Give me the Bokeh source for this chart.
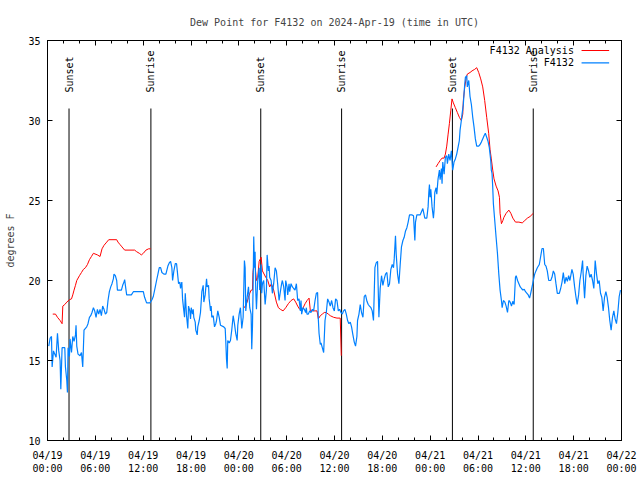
import numpy as np
import pandas as pd
from bokeh.plotting import figure
from bokeh.models import (FixedTicker, DatetimeTickFormatter, DatetimeAxis,
                          LinearAxis, Range1d, CustomJSTickFormatter)
from bokeh.embed import file_html
from bokeh.resources import INLINE
from bokeh.core.properties import value

# ---------------- data (hours since 2024-04-19 00:00 UTC, dew point in F) ----
obs_hours = [
    0.16, 0.33, 0.50, 0.58, 0.75, 0.91, 1.08, 1.25, 1.41, 1.58, 1.67, 1.83, 2.17, 2.25, 2.42, 2.50,
    2.58, 2.75, 2.83, 3.01, 3.17, 3.33, 3.51, 3.58, 3.67, 3.83, 4.08, 4.26, 4.42, 4.58, 4.92, 5.08,
    5.26, 5.42, 5.58, 5.76, 5.92, 6.09, 6.26, 6.42, 6.59, 6.76, 6.92, 7.09, 7.26, 7.43, 7.59, 7.76,
    7.93, 8.09, 8.26, 8.34, 8.51, 8.68, 8.77, 9.27, 9.43, 9.59, 9.68, 9.77, 9.93, 10.52, 10.77, 12.02,
    12.18, 12.43, 12.85, 13.10, 13.27,
    13.52, 13.68, 13.85, 14.02, 14.19, 14.35, 14.60, 14.85, 15.10, 15.27, 15.44, 15.60, 15.69, 15.85,
    16.03, 16.19, 16.28, 16.44, 16.60, 16.69, 16.85, 16.94, 17.10, 17.19, 17.28, 17.44, 17.60, 17.69,
    17.85, 17.94, 18.03, 18.19, 18.28, 18.35, 18.53, 18.60, 18.78, 18.85, 19.03, 19.19, 19.36, 19.53,
    19.61, 19.78, 19.95, 20.03, 20.20, 20.28, 20.45, 20.53, 20.61, 20.79, 20.95, 21.11, 21.20, 21.36,
    21.54, 21.70, 22.11, 22.29, 22.36, 22.45, 22.54, 22.61, 22.79, 22.95, 23.11, 23.29, 23.45, 23.61,
    23.79, 23.87, 24.04, 24.20,
    24.37, 24.54, 24.70, 24.79, 24.87, 25.04, 25.21, 25.37, 25.54, 25.62, 25.71, 25.79, 25.87, 25.96,
    26.04, 26.12, 26.21, 26.37, 26.55, 26.62, 26.80, 26.87, 26.96, 27.12, 27.30, 27.46, 27.55, 27.71,
    27.80, 27.87, 28.05, 28.21, 28.37, 28.55, 28.71, 28.87, 29.05, 29.21, 29.37, 29.46, 29.63, 29.80,
    29.88, 30.05, 30.13, 30.30, 30.38, 30.55, 30.72, 30.88, 31.05, 31.22, 31.38, 31.55, 31.72, 31.80,
    31.88, 32.05, 32.22, 32.38, 32.47, 32.55, 32.72, 32.88, 33.05, 33.22, 33.38, 33.56, 33.72, 33.88,
    33.97, 34.06, 34.22, 34.31, 34.47, 34.64, 34.81, 34.97, 35.14, 35.31, 35.47, 35.64, 35.81, 35.98,
    36.14, 36.31, 36.48, 36.64, 36.81, 36.98, 37.14, 37.31, 37.48, 37.64, 37.81, 37.98, 38.14, 38.31,
    38.48, 38.64, 38.81, 38.89, 39.07, 39.23, 39.39, 39.57, 39.73, 39.89, 40.07, 40.23, 40.39, 40.57,
    40.73, 40.89,
    41.07, 41.23, 41.40, 41.57, 41.73, 41.90, 42.07, 42.24, 42.40, 42.57, 42.74, 42.90, 43.07, 43.24,
    43.40, 43.49, 43.65, 43.74, 43.91, 44.08, 44.24, 44.40, 44.58, 44.74, 44.91, 45.08, 45.24, 45.41,
    45.74, 45.91, 46.08, 46.16, 46.33, 46.74, 46.91, 47.08, 47.16, 47.33, 47.58, 47.74, 47.83, 47.91,
    47.99, 48.08, 48.24, 48.41, 48.49, 48.58, 48.74, 48.83, 48.99, 49.16, 49.25, 49.41, 49.49, 49.58,
    49.75, 49.83, 49.91, 50.08, 50.16, 50.33, 50.49, 50.66, 50.83, 50.99, 51.16, 51.33, 51.49,
    51.66, 51.75, 51.91, 52.00, 52.16, 52.25, 52.34, 52.42, 52.59, 52.66, 52.84, 53.00, 53.17, 53.34,
    53.50, 53.67, 53.84, 54.09, 54.26, 54.42, 54.59, 54.76, 54.92, 55.09, 55.26, 55.42, 55.60, 55.67,
    55.76, 55.85, 55.93, 56.10, 56.27, 56.44, 56.61, 56.77, 56.94, 57.03, 57.19, 57.37, 57.53, 57.70,
    57.87, 58.04, 58.20, 58.36, 58.53, 58.70, 58.79, 58.96, 59.13, 59.30, 59.46, 59.63, 59.80, 59.96,
    60.14, 60.30, 60.47, 60.61, 60.78, 60.94,
    61.11, 61.27, 61.44, 61.69, 61.86, 62.03, 62.20, 62.37, 62.53, 62.69, 62.87, 63.12, 63.28, 63.45,
    63.62, 63.78, 63.95, 64.20, 64.37, 64.54, 64.70, 64.88, 65.04, 65.21, 65.37, 65.53, 65.78, 65.94,
    66.12, 66.28, 66.44, 66.62, 66.78, 66.94, 67.12, 67.19, 67.37, 67.53, 67.69, 67.87, 68.03, 68.19,
    68.37, 68.53, 68.70, 68.87, 69.03, 69.20, 69.37, 69.53, 69.70, 69.87, 70.04, 70.20, 70.37, 70.53,
    70.70, 70.87, 71.04, 71.20, 71.37, 71.54, 71.71, 71.87,
]
obs_dewpt = [
    15.9, 16.4, 16.5, 14.6, 15.6, 15.4, 15.2, 16.7, 15.6, 15.0, 13.2, 15.8, 15.8, 14.6, 13.75, 13.0,
    15.8, 15.25, 16.35, 15.5, 16.5, 16.2, 16.6, 17.2, 15.9, 15.4, 15.3, 15.5, 14.6, 16.9, 17.1, 17.3,
    17.7, 17.8, 18.0, 18.3, 18.1, 17.7, 18.2, 17.9, 18.2, 17.8, 18.4, 18.2, 17.9, 18.0, 18.75, 19.3,
    19.6, 19.8, 20.1, 20.4, 20.3, 20.0, 19.4, 19.4, 19.7, 19.9, 20.05, 19.7, 19.1, 19.1, 19.3, 19.3,
    18.95, 18.6, 18.6, 18.8, 19.0,
    19.6, 20.0, 20.4, 20.8, 20.8, 20.5, 20.4, 20.4, 20.9, 21.1, 21.2, 20.8, 20.0, 20.6,
    21.05, 21.05, 20.6, 19.8, 19.9, 19.5, 19.9, 18.85, 18.1, 17.7, 19.2, 17.8, 17.0, 18.4,
    18.1, 17.6, 18.3, 17.9, 18.2, 17.7, 17.4, 16.9, 16.6, 17.1, 17.5, 18.0, 19.3, 19.7,
    18.65, 19.1, 20.1, 19.6, 19.7, 18.85, 18.1, 18.4, 17.7, 17.8, 17.1, 17.3, 17.5, 18.1,
    17.7, 17.2, 17.1, 17.0, 16.25, 15.1, 14.5, 16.25, 16.1, 16.25, 16.9, 17.8, 17.3, 16.7,
    16.25, 17.2, 17.9, 18.3,
    17.0, 17.7, 21.25, 20.8, 18.1, 18.95, 19.6, 18.3, 17.9, 15.7, 17.1, 19.6, 22.75, 20.8,
    21.8, 19.4, 18.2, 20.0, 20.8, 19.4, 21.0, 19.2, 19.8, 20.0, 18.5, 19.4, 21.6, 20.6,
    20.9, 20.2, 20.0, 19.2, 19.8, 20.8, 20.6, 19.8, 18.75, 19.3, 19.8, 20.0, 19.6, 18.75,
    20.0, 19.6, 19.1, 19.8, 19.3, 19.8, 19.6, 19.5, 19.4, 19.8, 18.75, 18.85, 18.1, 18.75,
    17.9, 18.3, 18.2, 18.0, 18.3, 17.9, 17.9, 18.1, 18.0, 18.2, 18.1, 18.75, 19.2, 19.25,
    17.6, 16.7, 16.0, 16.1, 15.8, 15.5, 17.5, 18.0, 18.85, 18.65, 18.4, 18.75, 18.3, 18.1,
    18.85, 18.75, 18.1, 18.2, 18.0, 17.9, 18.1, 18.2, 17.9, 17.5, 17.3, 17.4, 17.1, 16.6,
    16.15, 15.9, 16.5, 17.5, 17.9, 18.5, 18.0, 17.7, 19.0, 19.1, 18.7, 18.5, 18.4, 18.3,
    18.1, 17.5,
    20.8, 21.1, 21.2, 17.7, 19.5, 20.3, 19.7, 20.1, 20.4, 20.5, 19.6, 19.8, 20.7, 21.0,
    20.8, 21.35, 22.8, 21.65, 20.4, 19.8, 21.0, 22.1, 22.5, 22.7, 23.1, 23.3, 23.65, 24.1,
    24.1, 24.05, 22.5, 23.65, 24.1, 24.1, 24.3, 24.5, 24.3, 23.9, 23.9, 24.6, 25.5, 26.0,
    25.2, 25.7, 24.6, 23.9, 24.4, 25.5, 25.8, 25.4, 26.35, 26.9, 26.3, 27.0, 26.05, 27.4,
    26.65, 27.2, 27.7, 27.8, 27.3, 27.9, 27.5, 28.1, 26.9, 27.4, 27.6, 27.9, 28.3,
    28.75, 29.4, 30.0, 30.4, 31.0, 31.7, 32.3, 32.7, 32.8, 32.1, 32.5, 31.5, 31.0, 30.2,
    29.6, 28.85, 28.4, 28.4, 28.5, 28.65, 28.85, 29.05, 29.2, 28.95, 28.7, 28.3, 27.5, 26.9,
    26.7, 25.8, 24.8, 23.75, 22.7, 21.7, 20.4, 19.4, 18.75, 18.3, 18.75, 18.65, 18.4, 18.0,
    18.75, 18.65, 18.4, 18.7, 18.5, 20.2, 20.3, 20.0, 19.8, 19.6, 19.5, 19.4, 19.45, 19.3,
    19.2, 19.1, 18.9, 19.2, 19.6, 20.0,
    20.4, 20.6, 20.8, 21.0, 21.5, 22.0, 22.0, 21.0, 20.9, 20.6, 20.0, 20.0, 20.2, 20.6,
    20.4, 19.8, 19.2, 19.2, 19.5, 19.9, 20.5, 19.8, 20.2, 19.95, 20.3, 20.0, 20.7, 20.4,
    19.6, 19.0, 18.5, 19.1, 20.0, 20.5, 21.25, 20.4, 18.9, 20.3, 20.9, 20.6, 20.2, 20.4,
    20.0, 19.5, 21.25, 20.4, 19.8, 20.0, 19.2, 18.95, 18.1, 18.95, 19.3, 18.95, 18.3, 17.5,
    16.9, 17.7, 18.1, 17.6, 17.3, 18.0, 19.0, 19.4,
]

# analysis, three daily segments
ana1_hours = [0.66, 1.00, 1.25, 1.58, 1.83, 1.92, 2.17, 2.42, 2.75, 3.01, 3.17, 3.33, 3.51, 3.67,
              4.01, 4.26, 4.51, 4.76, 5.01, 5.26, 5.51, 5.76, 6.26, 6.59, 6.84, 7.09, 7.43, 7.68,
              8.68, 8.84, 9.09, 9.34, 9.68, 10.93, 11.18, 11.52, 11.77, 12.02, 12.35, 12.68, 12.94]
ana1_dewpt = [17.9, 17.9, 17.7, 17.5, 17.3, 18.4, 18.5, 18.65, 18.8, 18.85, 19.1, 19.4, 19.7, 20.0,
              20.3, 20.5, 20.7, 20.8, 21.0, 21.3, 21.5, 21.7, 21.6, 21.5, 21.98, 22.2, 22.4, 22.55,
              22.55, 22.4, 22.25, 22.1, 21.9, 21.9, 21.8, 21.7, 21.6, 21.7, 21.9, 21.98, 21.98]

ana2_hours = [24.70, 25.04, 25.21, 25.37, 25.54, 25.71, 25.77, 25.96, 26.21, 26.37, 26.55, 26.80,
              26.96, 27.38, 27.63, 27.87, 28.09, 28.37, 28.71, 28.96, 29.21, 29.55, 29.88, 30.21,
              30.55, 30.88, 31.13, 31.38, 31.63, 31.88, 32.31, 32.56, 32.81, 32.97, 33.31, 33.81,
              33.97, 34.22, 34.47, 34.72, 34.97, 35.22, 35.47, 35.89, 36.31, 36.72, 36.85]
ana2_dewpt = [18.3, 18.65, 18.95, 19.2, 19.4, 19.4, 20.5, 21.3, 20.0, 20.2, 21.2, 21.45,
              20.6, 20.2, 20.0, 19.6, 19.8, 19.4, 18.65, 18.3, 18.2, 18.1, 18.3, 18.55,
              18.75, 18.85, 18.65, 18.4, 18.2, 18.1, 18.55, 18.75, 18.9, 18.1, 18.1, 18.1,
              17.6, 17.8, 17.9, 18.0, 18.0, 17.9, 17.8, 17.7, 17.65, 17.65, 15.3]

ana3_hours = [48.74, 48.99, 49.25, 49.49, 49.75, 49.91, 50.08, 50.24, 50.41, 50.58, 50.74, 50.91,
              51.16, 51.41, 51.66, 51.91, 52.09, 52.16, 52.34, 52.50, 52.66, 53.00, 53.25, 53.59,
              53.84, 54.09, 54.34, 54.59, 54.84, 55.09, 55.34, 55.51, 55.67, 55.85, 56.01, 56.27,
              56.52, 56.69, 56.77, 56.94, 57.12, 57.25, 57.53, 57.87, 58.12, 58.37, 58.70, 59.13,
              59.55, 59.87, 60.20, 60.53, 60.94]
ana3_dewpt = [27.1, 27.3, 27.5, 27.65, 27.65, 27.9, 28.4, 29.1, 29.8, 30.6, 31.35, 31.1,
              30.8, 30.5, 30.2, 30.0, 30.4, 31.25, 32.1, 32.6, 32.9, 33.0, 33.1, 33.2,
              33.3, 33.0, 32.6, 32.1, 31.25, 30.2, 29.2, 28.2, 27.6, 26.9, 26.35, 25.9,
              25.6, 25.2, 24.2, 23.55, 23.75, 23.95, 24.2, 24.4, 24.2, 23.9, 23.65, 23.65,
              23.6, 23.75, 23.9, 24.0, 24.2]

sunset_hours = [2.70, 26.75, 50.79]
sunrise_hours = [12.97, 36.89, 60.93]

x_tick_hours = [0, 6, 12, 18, 24, 30, 36, 42, 48, 54, 60, 66, 72]
x_minor_hours = list(range(0, 73, 2))
y_ticks = [10, 15, 20, 25, 30, 35]

TITLE = "Dew Point for F4132 on 2024-Apr-19 (time in UTC)"
Y_LABEL = "degrees F"
SERIES_NAMES = ["F4132 Analysis", "F4132"]

# ---------------- helpers ----------------
BASE = pd.Timestamp("2024-04-19 00:00")


def t(hours):
    return BASE + pd.to_timedelta(np.asarray(hours, dtype=float), unit="h")


def ms(hours):
    return [float(v.value // 10**6) for v in t(hours)]


FONT = "DejaVu Sans Mono"
FS = "10px"
RED = "#ff0000"
BLUE = "#0080ff"
Y0, Y1 = 10, 35
X0, X1 = 0, 72

p = figure(frame_width=574, frame_height=400, x_axis_type="datetime",
           x_range=Range1d(t([X0])[0], t([X1])[0]), y_range=Range1d(Y0, Y1),
           output_backend="svg", toolbar_location=None,
           min_border_left=47, min_border_right=18, min_border_top=40, min_border_bottom=39)

p.grid.visible = False
p.outline_line_color = "black"
p.outline_line_width = 1
p.background_fill_color = "white"
p.border_fill_color = "white"

p.title.text = TITLE
p.title.align = "center"
p.title.text_font = FONT
p.title.text_font_size = FS
p.title.text_font_style = "normal"
p.title.standoff = 25

xticker = FixedTicker(ticks=ms(x_tick_hours), minor_ticks=ms(x_minor_hours))
yticker = FixedTicker(ticks=y_ticks, minor_ticks=[])
fmt = "%m/%d\n%H:%M"
xfmt = DatetimeTickFormatter(hours=fmt, hourmin=fmt, days=fmt, months=fmt, minutes=fmt,
                             minsec=fmt, seconds=fmt, milliseconds=fmt, years=fmt, context=None)
blank = CustomJSTickFormatter(code="return ''")


def style_axis(ax):
    ax.axis_line_color = "black"
    ax.major_tick_in = 5
    ax.major_tick_out = 0
    ax.minor_tick_in = 3
    ax.minor_tick_out = 0
    ax.major_tick_line_color = "black"
    ax.minor_tick_line_color = "black"
    ax.major_label_text_font = FONT
    ax.major_label_text_font_size = FS
    ax.major_label_text_color = "black"
    ax.axis_label_text_font = FONT
    ax.axis_label_text_font_size = FS
    ax.axis_label_text_font_style = "normal"


xa = p.xaxis[0]
xa.ticker = xticker
xa.formatter = xfmt
style_axis(xa)
xa.major_label_standoff = 9

ya = p.yaxis[0]
ya.ticker = yticker
style_axis(ya)
ya.major_label_standoff = 7
ya.axis_label = Y_LABEL
ya.axis_label_standoff = 9

top = DatetimeAxis(ticker=xticker, formatter=blank)
style_axis(top)
top.major_label_standoff = 0
p.add_layout(top, "above")

right = LinearAxis(ticker=yticker, formatter=blank)
style_axis(right)
right.major_label_standoff = 0
p.add_layout(right, "right")

# sunrise / sunset markers
LINE_TOP = 30.75
LABEL_Y = 31.75
sun_hours = sunset_hours + sunrise_hours
sun_text = ["Sunset"] * len(sunset_hours) + ["Sunrise"] * len(sunrise_hours)
p.segment(x0=t(sun_hours), y0=[Y0] * len(sun_hours), x1=t(sun_hours),
          y1=[LINE_TOP] * len(sun_hours), line_color="black", line_width=1.0)
p.text(x=t(sun_hours), y=[LABEL_Y] * len(sun_hours), text=sun_text, angle=np.pi / 2,
       text_align="left", text_baseline="middle", text_font=value(FONT),
       text_font_size=FS, text_color="black")

# series
for hh, vv in ((ana1_hours, ana1_dewpt), (ana2_hours, ana2_dewpt), (ana3_hours, ana3_dewpt)):
    p.line(t(hh), vv, line_color=RED, line_width=1.0)
p.line(t(obs_hours), obs_dewpt, line_color=BLUE, line_width=1.2)

# key (text left of the sample line, as in the original)
KEY_TEXT_X = 66.03
KEY_LINE_X = (66.99, 70.45)
KEY_ROWS = [34.375, 33.6]
p.text(x=t([KEY_TEXT_X] * 2), y=KEY_ROWS, text=SERIES_NAMES, text_align="right",
       text_baseline="middle", text_font=value(FONT), text_font_size=FS, text_color="black")
p.segment(x0=t([KEY_LINE_X[0]] * 2), y0=KEY_ROWS, x1=t([KEY_LINE_X[1]] * 2), y1=KEY_ROWS,
          line_color=[RED, BLUE], line_width=[1.0, 1.2])

open("out.html", "w").write(file_html(p, INLINE))
